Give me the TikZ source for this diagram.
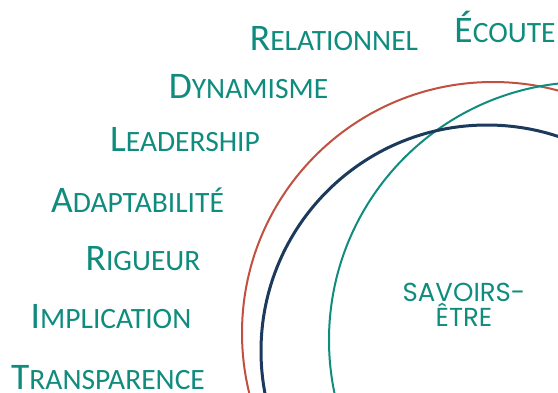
\documentclass[tikz,border=0pt]{standalone}
\usepackage{fontspec}
\setmainfont{Carlito}
\newfontfamily\savfont{Poppins}
\usetikzlibrary{positioning}
\definecolor{sarcel}{HTML}{0F8C7E}
\definecolor{brique}{HTML}{C0503F}
\definecolor{marine}{HTML}{1B3A5C}
\newcommand{\petitcap}[2]{{\fontsize{37.5}{38}\selectfont #1}{\fontsize{29.5}{30}\selectfont #2}}

\begin{document}
\begin{tikzpicture}[x=1pt, y=-1pt,
		qualite/.style={text=sarcel, anchor=base, inner sep=0pt},
		cercle/.style={line width=#1}]
	\useasboundingbox (0,0) rectangle (558,392);
	\begin{scope}
		\clip (0,0) rectangle (558,392);
		\draw[cercle=2pt, brique] (493,333) circle[radius=251pt];
		\draw[cercle=2pt, sarcel] (587,340) circle[radius=258pt];
		\draw[cercle=3pt, marine] (487,351) circle[radius=226pt];
	\end{scope}
	% les qualites
	\node[qualite] (Ecoute) at (505,42) {\petitcap{É}{COUTE}};
	\node[qualite] (Rel) at (334,50) {\petitcap{R}{ELATIONNEL}};
	\node[qualite] (Dyn) at (248.5,98) {\petitcap{D}{YNAMISME}};
	\node[qualite] (Lead) at (185,151) {\petitcap{L}{EADERSHIP}};
	\node[qualite] (Adapt) at (137.5,212) {\petitcap{A}{DAPTABILITÉ}};
	\node[qualite] (Rig) at (143,270) {\petitcap{R}{IGUEUR}};
	\node[qualite] (Impl) at (111,328) {\petitcap{I}{MPLICATION}};
	\node[qualite] (Trans) at (108,389) {\petitcap{T}{RANSPARENCE}};
	% centre
	\node[text=sarcel, align=center, anchor=base, inner sep=0pt,
		font=\savfont\fontsize{26}{25}\selectfont] (Sav) at (464,326) {SAVOIRS-\\ÊTRE};
\end{tikzpicture}
\end{document}
